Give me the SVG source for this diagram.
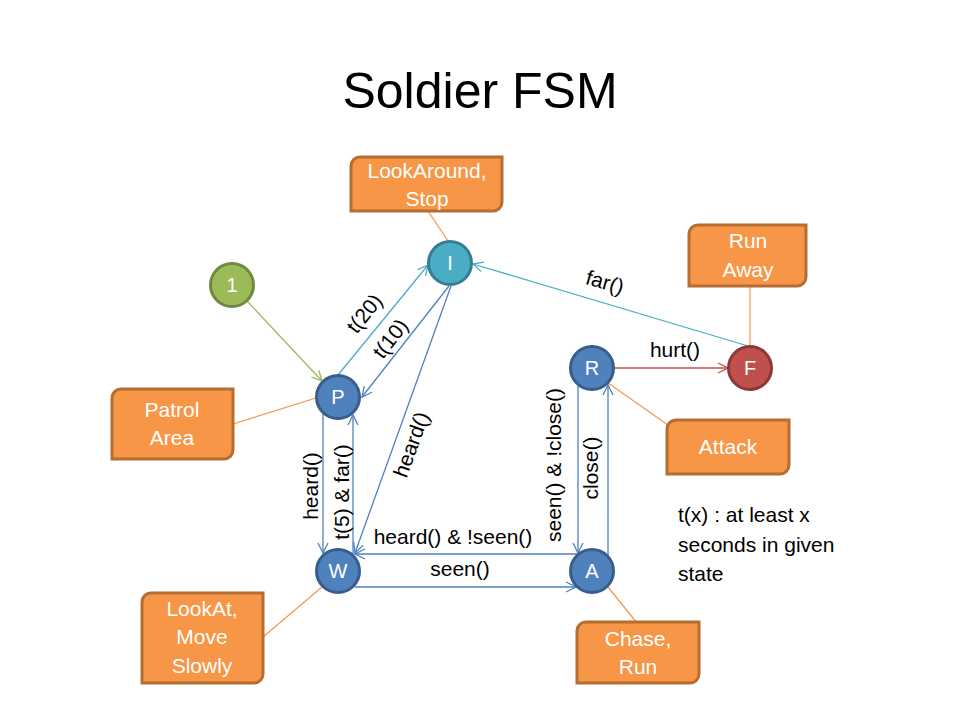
<svg xmlns="http://www.w3.org/2000/svg" width="960" height="720" viewBox="0 0 960 720">
<style>
.title{font-family:"Liberation Sans",Arial,sans-serif;font-size:50px;fill:#000}
.lbl{font-family:"Liberation Sans",Arial,sans-serif;font-size:21px;fill:#000}
.box{fill:#F79646;stroke:#B66D31;stroke-width:3}
.btxt{font-family:"Liberation Sans",Arial,sans-serif;font-size:21px;fill:#fff;text-anchor:middle}
.ntxt{font-family:"Liberation Sans",Arial,sans-serif;font-size:20px;fill:#fff;text-anchor:middle}
.blue{fill:#4F81BD;stroke:#385D8A;stroke-width:3}
.cyan{fill:#4BACC6;stroke:#357D91;stroke-width:3}
.green{fill:#9BBB59;stroke:#71893F;stroke-width:3}
.red{fill:#C0504D;stroke:#8C3836;stroke-width:3}
.ann{stroke:#F79646;stroke-width:1.2;fill:none}
.eb{stroke:#4F81BD;stroke-width:1.3;fill:none;marker-end:url(#ab)}
.ec{stroke:#4BACC6;stroke-width:1.3;fill:none;marker-end:url(#ac)}
.eg{stroke:#9BBB59;stroke-width:1.3;fill:none;marker-end:url(#ag)}
.er{stroke:#C0504D;stroke-width:1.3;fill:none;marker-end:url(#ar)}
</style>
<defs>
<marker id="ab" markerUnits="userSpaceOnUse" viewBox="0 0 12 12" refX="11" refY="6" markerWidth="12" markerHeight="12" orient="auto"><path d="M1,1 L11,6 L1,11" fill="none" stroke="#4F81BD" stroke-width="1.3"/></marker>
<marker id="ac" markerUnits="userSpaceOnUse" viewBox="0 0 12 12" refX="11" refY="6" markerWidth="12" markerHeight="12" orient="auto"><path d="M1,1 L11,6 L1,11" fill="none" stroke="#4BACC6" stroke-width="1.3"/></marker>
<marker id="ag" markerUnits="userSpaceOnUse" viewBox="0 0 12 12" refX="11" refY="6" markerWidth="12" markerHeight="12" orient="auto"><path d="M1,1 L11,6 L1,11" fill="none" stroke="#9BBB59" stroke-width="1.3"/></marker>
<marker id="ar" markerUnits="userSpaceOnUse" viewBox="0 0 12 12" refX="11" refY="6" markerWidth="12" markerHeight="12" orient="auto"><path d="M1,1 L11,6 L1,11" fill="none" stroke="#C0504D" stroke-width="1.3"/></marker>
</defs>
<rect width="960" height="720" fill="#fff"/>
<text class="title" x="480" y="108" text-anchor="middle">Soldier FSM</text>

<g id="connectors">
<line class="ann" x1="428" y1="211" x2="448" y2="241"/>
<line class="ann" x1="233" y1="424" x2="316" y2="398"/>
<line class="ann" x1="750" y1="226" x2="750" y2="346"/>
<line class="ann" x1="608" y1="383" x2="668" y2="425"/>
<line class="ann" x1="322" y1="587" x2="263" y2="637"/>
<line class="ann" x1="608" y1="587" x2="637" y2="623"/>

<line class="eg" x1="247" y1="301" x2="322" y2="381"/>
<line class="ec" x1="338" y1="375" x2="428" y2="265"/>
<line class="eb" x1="449" y1="286" x2="362" y2="397"/>
<line class="eb" x1="451" y1="286" x2="355" y2="553"/>
<line class="eb" x1="323" y1="414" x2="323" y2="553"/>
<line class="eb" x1="353" y1="554" x2="353" y2="415"/>
<line class="eb" x1="577" y1="554" x2="355" y2="554"/>
<line class="eb" x1="355" y1="587" x2="576" y2="587"/>
<line class="eb" x1="578" y1="386" x2="578" y2="553"/>
<line class="eb" x1="608" y1="555" x2="608" y2="385"/>
<line class="er" x1="615" y1="368" x2="728" y2="368"/>
<line class="ec" x1="748" y1="346" x2="473" y2="264"/>

<text class="lbl" transform="translate(370,318) rotate(-51)" text-anchor="middle">t(20)</text>
<text class="lbl" transform="translate(396,343) rotate(-52)" text-anchor="middle">t(10)</text>
<text class="lbl" transform="translate(418,447) rotate(-70)" text-anchor="middle">heard()</text>
<text class="lbl" transform="translate(318,486) rotate(-90)" text-anchor="middle">heard()</text>
<text class="lbl" transform="translate(349,492) rotate(-90)" text-anchor="middle">t(5) &amp; far()</text>
<text class="lbl" x="453" y="544" text-anchor="middle">heard() &amp; !seen()</text>
<text class="lbl" x="460" y="576" text-anchor="middle">seen()</text>
<text class="lbl" transform="translate(561,465) rotate(-90)" text-anchor="middle">seen() &amp; !close()</text>
<text class="lbl" transform="translate(598,468) rotate(-90)" text-anchor="middle">close()</text>
<text class="lbl" x="675" y="357" text-anchor="middle">hurt()</text>
<text class="lbl" transform="translate(603,289) rotate(16)" text-anchor="middle">far()</text>
</g>

<g id="box-lookaround"><path class="box" d="M360,157 H502 V202 A9,9 0 0 1 493,211 H351 V166 A9,9 0 0 1 360,157 Z"/><text class="btxt" x="427" y="178">LookAround,</text><text class="btxt" x="427" y="206">Stop</text></g>
<g id="box-runaway"><path class="box" d="M698,225 H806 V277 A9,9 0 0 1 797,286 H689 V234 A9,9 0 0 1 698,225 Z"/><text class="btxt" x="748" y="248">Run</text><text class="btxt" x="748" y="277">Away</text></g>
<g id="box-patrol"><path class="box" d="M121,389 H233 V450 A9,9 0 0 1 224,459 H112 V398 A9,9 0 0 1 121,389 Z"/><text class="btxt" x="172" y="417">Patrol</text><text class="btxt" x="172" y="445">Area</text></g>
<g id="box-attack"><path class="box" d="M676,420 H789 V465 A9,9 0 0 1 780,474 H667 V429 A9,9 0 0 1 676,420 Z"/><text class="btxt" x="728" y="454">Attack</text></g>
<g id="box-lookat"><path class="box" d="M151,593 H263 V674 A9,9 0 0 1 254,683 H142 V602 A9,9 0 0 1 151,593 Z"/><text class="btxt" x="202" y="616">LookAt,</text><text class="btxt" x="202" y="644">Move</text><text class="btxt" x="202" y="673">Slowly</text></g>
<g id="box-chase"><path class="box" d="M586,622 H699 V674 A9,9 0 0 1 690,683 H577 V631 A9,9 0 0 1 586,622 Z"/><text class="btxt" x="638" y="646">Chase,</text><text class="btxt" x="638" y="674">Run</text></g>

<g id="node-1"><circle class="green" cx="232" cy="285" r="21.5"/><text class="ntxt" x="232" y="292">1</text></g>
<g id="node-I"><circle class="cyan" cx="450" cy="263" r="21.5"/><text class="ntxt" x="450" y="270">I</text></g>
<g id="node-P"><circle class="blue" cx="338" cy="397" r="21.5"/><text class="ntxt" x="338" y="404">P</text></g>
<g id="node-W"><circle class="blue" cx="338" cy="571" r="21.5"/><text class="ntxt" x="338" y="578">W</text></g>
<g id="node-R"><circle class="blue" cx="592" cy="368" r="21.5"/><text class="ntxt" x="592" y="375">R</text></g>
<g id="node-A"><circle class="blue" cx="592" cy="571" r="21.5"/><text class="ntxt" x="592" y="578">A</text></g>
<g id="node-F"><circle class="red" cx="750" cy="368" r="21.5"/><text class="ntxt" x="750" y="375">F</text></g>

<g id="legend">
<text class="lbl" x="678" y="522">t(x) : at least x</text>
<text class="lbl" x="678" y="552">seconds in given</text>
<text class="lbl" x="678" y="581">state</text>
</g>
</svg>
